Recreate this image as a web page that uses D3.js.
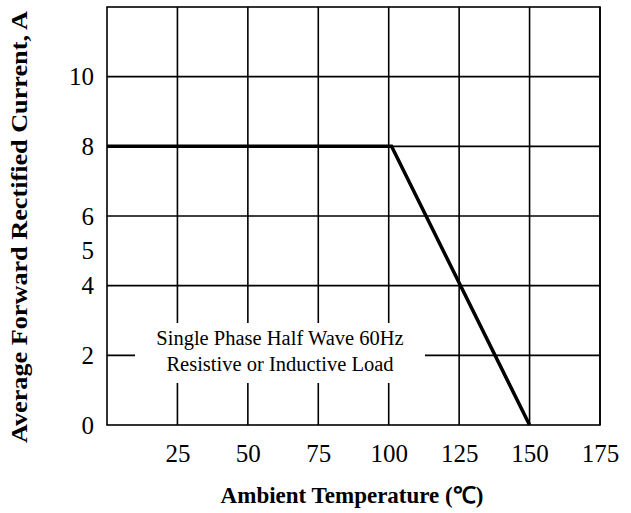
<!DOCTYPE html>
<html>
<head>
<meta charset="utf-8">
<script src="https://cdn.jsdelivr.net/npm/d3@7"></script>
<style>
  body { margin: 0; background: #fff; }
  text { font-family: "Liberation Serif", "Times New Roman", serif; fill: #000; }
</style>
</head>
<body>
<script>
// derating curve data
var temperature = [0, 101, 150];
var current = [8, 8, 0];

var xTicks = [25, 50, 75, 100, 125, 150, 175];
var yTicks = [0, 2, 4, 5, 6, 8, 10];
var yGrid = [2, 4, 6, 8, 10];
var noteLines = ["Single Phase Half Wave 60Hz", "Resistive or Inductive Load"];

var margin = {top: 7, right: 31, bottom: 88, left: 107},
    width = 631 - margin.left - margin.right,
    height = 513 - margin.top - margin.bottom;

var svg = d3.select("body").append("svg")
    .attr("width", 631)
    .attr("height", 513)
  .append("g")
    .attr("transform", "translate(" + margin.left + "," + margin.top + ")");

var x = d3.scaleLinear().domain([0, 175]).range([0, width]);
var y = d3.scaleLinear().domain([0, 12]).range([height, 0]);

// grid
svg.selectAll(".vgrid").data(xTicks).enter().append("line")
    .attr("x1", function(d) { return x(d); })
    .attr("x2", function(d) { return x(d); })
    .attr("y1", 0).attr("y2", height)
    .attr("stroke", "#000").attr("stroke-width", 1.6);

svg.selectAll(".hgrid").data(yGrid).enter().append("line")
    .attr("x1", 0).attr("x2", width)
    .attr("y1", function(d) { return y(d); })
    .attr("y2", function(d) { return y(d); })
    .attr("stroke", "#000").attr("stroke-width", 1.6);

// frame
svg.append("rect")
    .attr("x", 0).attr("y", 0)
    .attr("width", width).attr("height", height)
    .attr("fill", "none").attr("stroke", "#000").attr("stroke-width", 1.6);

// note box hides the grid behind it
var note = svg.append("g");
note.append("rect")
    .attr("x", 135 - margin.left).attr("y", 323 - margin.top)
    .attr("width", 290).attr("height", 60)
    .attr("fill", "#fff");
note.selectAll("text").data(noteLines).enter().append("text")
    .attr("x", 280 - margin.left)
    .attr("y", function(d, i) { return 345 - margin.top + i * 26; })
    .attr("text-anchor", "middle")
    .style("font-size", "20.5px")
    .text(function(d) { return d; });

// curve
var line = d3.line()
    .x(function(d, i) { return x(d); })
    .y(function(d, i) { return y(current[i]); });

svg.append("path")
    .datum(temperature)
    .attr("d", line)
    .attr("fill", "none")
    .attr("stroke", "#000")
    .attr("stroke-width", 3.5);

// axes (labels only)
svg.append("g")
    .attr("transform", "translate(0," + height + ")")
    .call(d3.axisBottom(x).tickValues(xTicks).tickSize(0).tickPadding(19))
    .call(function(g) { g.select(".domain").remove(); })
    .selectAll("text")
    .style("font-size", "25px")
    .style("font-family", "Liberation Serif");

svg.append("g")
    .call(d3.axisLeft(y).tickValues(yTicks).tickSize(0).tickPadding(13))
    .call(function(g) { g.select(".domain").remove(); })
    .selectAll("text")
    .style("font-size", "25px")
    .style("font-family", "Liberation Serif");

// titles
svg.append("text")
    .attr("x", 352 - margin.left)
    .attr("y", 503 - margin.top)
    .style("text-anchor", "middle")
    .style("font-size", "23px")
    .style("font-weight", "bold")
    .text("Ambient Temperature (℃)");

svg.append("text")
    .attr("transform", "rotate(-90)")
    .attr("x", -(227 - margin.top))
    .attr("y", 27 - margin.left)
    .attr("textLength", 432)
    .attr("lengthAdjust", "spacingAndGlyphs")
    .style("text-anchor", "middle")
    .style("font-size", "23px")
    .style("font-weight", "bold")
    .text("Average Forward Rectified Current, A");
</script>
</body>
</html>
